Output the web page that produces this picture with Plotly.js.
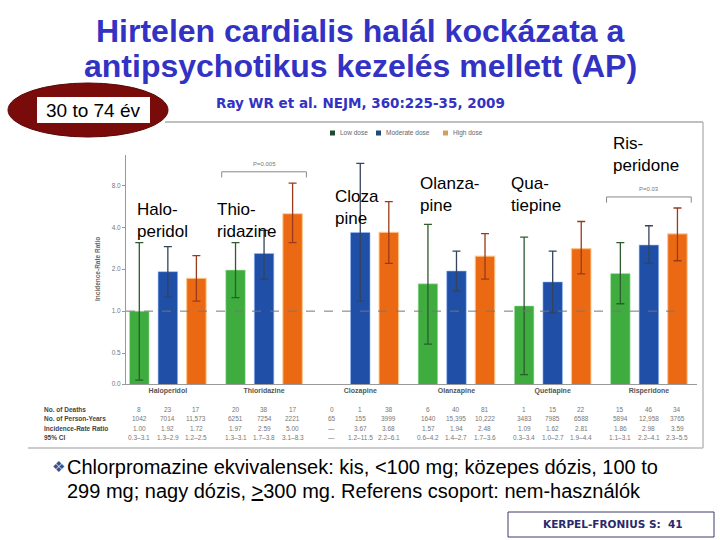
<!DOCTYPE html>
<html><head><meta charset="utf-8">
<script src="https://cdn.plot.ly/plotly-3.0.1.min.js"></script>
<style>html,body{margin:0;padding:0;background:#fff}#c{width:720px;height:540px}</style>
</head><body><div id="c"></div>
<script>
// ---- data ----
const drugs = ["Haloperidol","Thioridazine","Clozapine","Olanzapine","Quetiapine","Risperidone"];
const doses = ["Low dose","Moderate dose","High dose"];
const lowIRR  = [1.00, 1.97, null, 1.57, 1.09, 1.86];
const modIRR  = [1.92, 2.59, 3.67, 1.94, 1.62, 2.98];
const highIRR = [1.72, 5.00, 3.68, 2.48, 2.81, 3.59];
const lowLo  = [0.32, 1.25, null, 0.58, 0.35, 1.13];
const lowHi  = [3.1, 3.1, null, 4.2, 3.4, 3.1];
const modLo  = [1.26, 1.7, 1.18, 1.4, 0.97, 2.2];
const modHi  = [2.9, 3.8, 11.5, 2.7, 2.7, 4.1];
const highLo = [1.18, 3.1, 2.2, 1.7, 1.85, 2.3];
const highHi = [2.5, 8.3, 6.1, 3.6, 4.4, 5.5];
const lowDeaths  = ["8","20","0","6","1","15"];
const modDeaths  = ["23","38","1","40","15","46"];
const highDeaths = ["17","17","38","81","22","34"];
const lowPY  = ["1042","6251","65","1640","3483","5894"];
const modPY  = ["7014","7254","155","15,395","7985","12,958"];
const highPY = ["11,573","2221","3999","10,222","6588","3765"];
const rowLabels = ["No. of Deaths","No. of Person-Years","Incidence-Rate Ratio","95% CI"];
const yTickVals = [0.3, 0.5, 1, 2, 4, 8];
const yTickText = ["0.0","0.5","1.0","2.0","4.0","8.0"];
const pValues = [{group:1, text:"P=0.005", y:10.0}, {group:5, text:"P=0.03", y:6.6}];

// ---- helpers ----
const W = 720, H = 540;
const X = v => v / W, Y = v => 1 - v / H;
const FONT = "Liberation Sans, Arial, sans-serif";
const DV = "DejaVu Sans, sans-serif";
function ann(text, x, y, o) {
  return Object.assign({xref:'paper', yref:'paper', x:X(x), y:Y(y), text:text, showarrow:false,
    xanchor:'center', yanchor:'middle', font:{family:FONT, size:12, color:'#000'}}, o || {});
}
const colors = ["#3fac3f", "#1f4fa6", "#ec6914"];
const legendColors = ["#1e4a30", "#1f4a7a", "#d0a060"];
const errColors = ["#2d5c2d", "#34435e", "#9a3a1c"];
const irr = [lowIRR, modIRR, highIRR], lo = [lowLo, modLo, highLo], hi = [lowHi, modHi, highHi];
const deaths = [lowDeaths, modDeaths, highDeaths], py = [lowPY, modPY, highPY];

const traces = doses.map((d, k) => ({
  type:'bar', name:d, x:drugs, y:irr[k],
  marker:{color:colors[k], line:{width:k===2?1.2:0.8, color:k===2?'rgba(255,200,140,0.8)':(k===1?'rgba(150,190,255,0.7)':'rgba(170,230,170,0.7)')}},
  error_y:{type:'data', symmetric:false,
    array:irr[k].map((v,i)=> v==null?null:hi[k][i]-v),
    arrayminus:irr[k].map((v,i)=> v==null?null:v-lo[k][i]),
    color:errColors[k], thickness:1.3, width:4},
  hoverinfo:'skip'
}));

const annotations = [];
const shapes = [];
// slide title
annotations.push(ann("<b>Hirtelen cardialis halál kockázata a</b>", 360, 31, {font:{family:FONT, size:32, color:'#3232c4'}}));
annotations.push(ann("<b>antipsychotikus kezelés mellett (AP)</b>", 360, 66, {font:{family:FONT, size:32, color:'#3232c4'}}));
annotations.push(ann("30 to 74 év", 93, 110, {font:{family:"Liberation Sans Narrow, Arial Narrow, Liberation Sans, sans-serif", size:19, color:'#000'}}));
annotations.push(ann("<b>Ray WR et al. NEJM, 360:225-35, 2009</b>", 360, 103, {font:{family:DV, size:13.5, color:'#3232c4'}}));
// drug overlay labels
const overlay = [["Halo-<br>peridol",135,198],["Thio-<br>ridazine",215,198],["Cloza<br>pine",333,185],
                 ["Olanza-<br>pine",418,172],["Qua-<br>tiepine",509,172],["Ris-<br>peridone",611,132]];
overlay.forEach(o => annotations.push(ann(o[0], o[1], o[2], {xanchor:'left', yanchor:'top', align:'left', font:{family:FONT, size:17, color:'#000'}})));
// y axis title
annotations.push(ann("<b>Incidence-Rate Ratio</b>", 97, 269, {textangle:-90, font:{family:FONT, size:6.5, color:'#666'}}));
// manual legend
const legX = [332, 378, 445];
doses.forEach((d, k) => {
  shapes.push({type:'rect', xref:'paper', yref:'paper', x0:X(legX[k]-2), x1:X(legX[k]+3), y0:Y(130.5), y1:Y(135.5), fillcolor:legendColors[k], line:{width:0}});
  annotations.push(ann(d, legX[k]+6, 133, {xanchor:'left', font:{family:FONT, size:6.5, color:'#666'}}));
});
// p-value labels
pValues.forEach(p => annotations.push({xref:'x', yref:'y', x:p.group, y:Math.log10(p.y), text:p.text, showarrow:false,
  yanchor:'bottom', yshift:3, font:{family:FONT, size:6, color:'#777'}}));
// table
const rowY = [409, 418.5, 428, 437.5];
rowLabels.forEach((t, r) => annotations.push(ann("<b>" + t + "</b>", 42, rowY[r], {xanchor:'left', font:{family:FONT, size:6.5, color:'#444'}})));
const offs = [-0.296, 0, 0.296];
drugs.forEach((d, i) => {
  for (let k = 0; k < 3; k++) {
    const v = irr[k][i];
    const cells = [deaths[k][i], py[k][i], v == null ? "—" : v.toFixed(2),
                   v == null ? "—" : lo[k][i].toFixed(1) + "–" + hi[k][i].toFixed(1)];
    cells.forEach((c, r) => annotations.push({xref:'x', yref:'paper', x:i + offs[k], y:Y(rowY[r]), text:c,
      showarrow:false, xanchor:'center', yanchor:'middle', font:{family:FONT, size:6.5, color:'#777'}}));
  }
});
// bullet text
annotations.push(ann("<span style='color:#4a4a8a'>❖</span>", 58, 467, {font:{family:DV, size:15, color:'#4a4a8a'}}));
annotations.push(ann("Chlorpromazine ekvivalensek: kis, &lt;100 mg; közepes dózis, 100 to", 65, 467, {xanchor:'left', font:{family:FONT, size:20, color:'#000'}}));
annotations.push(ann("299 mg; nagy dózis, <u>&gt;</u>300 mg. Referens csoport: nem-használók", 65, 491, {xanchor:'left', font:{family:FONT, size:20, color:'#000'}}));
annotations.push(ann("<b>KERPEL-FRONIUS S:  41</b>", 613, 524, {font:{family:DV, size:10.5, color:'#2a2a6a'}}));

// chart picture frame
shapes.push({type:'line', xref:'paper', yref:'paper', x0:X(165), x1:X(703), y0:Y(122), y1:Y(122), line:{color:'#aaa', width:1.5}});
shapes.push({type:'line', xref:'paper', yref:'paper', x0:X(703), x1:X(703), y0:Y(122), y1:Y(448), line:{color:'#bbb', width:1.5}});
shapes.push({type:'line', xref:'paper', yref:'paper', x0:X(28), x1:X(703), y0:Y(448), y1:Y(448), line:{color:'#bbb', width:1.5}});
// ellipse badge
shapes.push({type:'circle', xref:'paper', yref:'paper', x0:X(8), x1:X(168), y0:Y(83), y1:Y(137), fillcolor:'#7a0b0b', line:{color:'#5a0505', width:1}});
shapes.push({type:'rect', xref:'paper', yref:'paper', x0:X(37), x1:X(150), y0:Y(97), y1:Y(123), fillcolor:'#fff', line:{width:0}});
// reference line at 1.0
shapes.push({type:'line', xref:'paper', yref:'y', x0:X(126), x1:X(684), y0:1, y1:1, line:{color:'#777', width:1, dash:'dash'}});
// p-value brackets
pValues.forEach(p => {
  const a = p.group - 0.44, b = p.group + 0.44, yt = p.y * 0.91;
  shapes.push({type:'line', xref:'x', yref:'y', x0:a, x1:b, y0:p.y, y1:p.y, line:{color:'#888', width:1}});
  shapes.push({type:'line', xref:'x', yref:'y', x0:a, x1:a, y0:p.y, y1:yt, line:{color:'#888', width:1}});
  shapes.push({type:'line', xref:'x', yref:'y', x0:b, x1:b, y0:p.y, y1:yt, line:{color:'#888', width:1}});
});
// footer box
shapes.push({type:'rect', xref:'paper', yref:'paper', x0:X(508), x1:X(714), y0:Y(512), y1:Y(537), line:{color:'#3a3a6a', width:1}});

const layout = {
  width:W, height:H, margin:{l:0, r:0, t:0, b:0}, paper_bgcolor:'#fff', plot_bgcolor:'rgba(0,0,0,0)',
  barmode:'group', bargap:0.11, bargroupgap:0.316,
  showlegend:false,
  xaxis:{type:'category', domain:[X(126), X(697)], range:[-0.435, 5.5], showline:true, linecolor:'#999', linewidth:1,
         ticks:'', showgrid:false, zeroline:false, tickfont:{family:FONT, size:7, color:'#555', weight:'bold'}, fixedrange:true},
  yaxis:{type:'log', domain:[1 - 384/540, 1 - 155/540], range:[Math.log10(0.3), Math.log10(13.2)],
         tickvals:yTickVals, ticktext:yTickText, ticks:'outside', ticklen:3, tickcolor:'#999',
         showline:true, linecolor:'#999', linewidth:1, showgrid:false, zeroline:false,
         tickfont:{family:FONT, size:6.5, color:'#777'}, fixedrange:true},
  annotations:annotations, shapes:shapes
};
Plotly.newPlot('c', traces, layout, {staticPlot:true, displayModeBar:false});
</script></body></html>
